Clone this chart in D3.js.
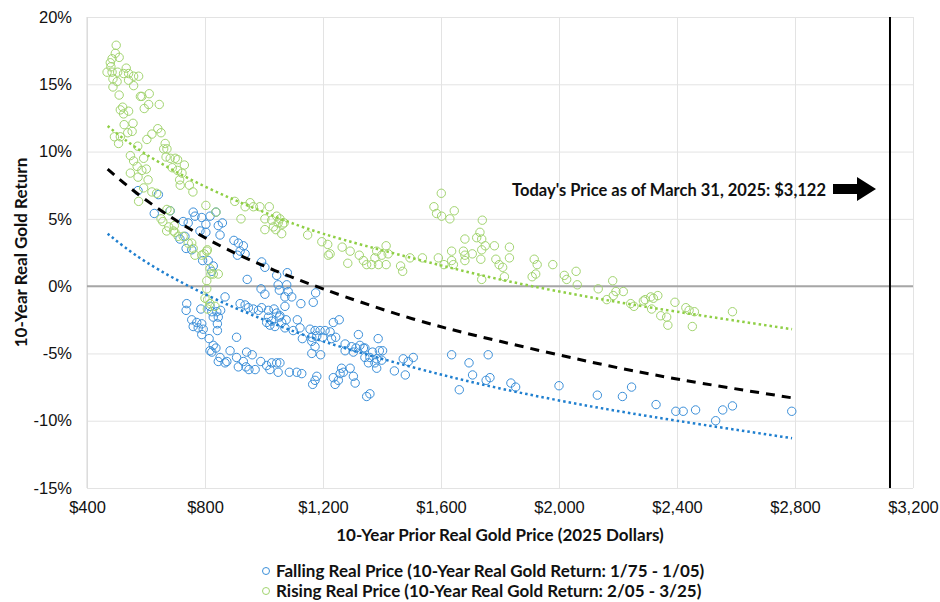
<!DOCTYPE html>
<html lang="en">
<head>
<meta charset="utf-8">
<style>
  body { margin: 0; background: white; }
  svg { font-family: Lato, 'Open Sans', sans-serif; background: white; }
  .grid line { stroke: #e3e3e3; }
  .grid path { display: none; }
  .ticks text { font-size: 16.5px; fill: #111; }
  .ticks path, .ticks line { display: none; }
  .title { font-size: 17px; font-weight: bold; fill: #111; }
  .note { font-size: 16.5px; font-weight: bold; fill: #111; }
  .legend text { font-size: 17px; font-weight: bold; fill: #111; }
  .dot { fill: none; stroke-width: 1; }
</style>
</head>
<body>
<svg width="940" height="602"></svg>
<script src="https://d3js.org/d3.v7.min.js"></script>
<script>
// [real price, 10y real return %]
const fallingPoints = [
  [573, 7.1], [642, 6.8], [628, 5.4], [682, 5.6], [760, 5.5], [766, 5.2], [789, 5.1], [817, 5.2], [837, 5.5],
  [726, 4.8], [743, 4.7], [803, 4.6], [845, 4.5], [859, 4.7], [783, 4.1], [803, 4.0], [851, 3.8], [715, 3.5],
  [732, 3.7], [736, 2.8], [755, 2.7], [792, 1.9], [811, 1.9], [828, 1.5], [823, 1.1], [898, 3.4], [913, 3.2],
  [930, 3.0], [919, 2.6], [936, 2.4], [910, 2.3], [992, 1.8], [1003, 1.4], [1043, 0.8], [1079, 1.0], [943, 0.5],
  [990, -0.2], [1003, -0.6], [1052, -0.3], [1071, -0.8], [1082, -0.4], [868, -0.8], [738, -1.3], [736, -1.8],
  [786, -1.7], [817, -1.5], [823, -1.9], [919, -1.3], [936, -1.4], [947, -1.6], [964, -1.7], [981, -1.8],
  [992, -1.6], [1015, -1.8], [1034, -1.7], [1043, -2.0], [1054, -2.2], [1071, -1.5], [840, -1.9], [845, -2.3],
  [828, -2.3], [853, -1.8], [755, -2.5], [772, -2.7], [789, -2.8], [760, -3.0], [777, -3.1], [794, -3.2],
  [1015, -2.3], [1026, -2.6], [1052, -2.3], [1075, -2.5], [1009, -2.7], [842, -2.8], [842, -3.3], [789, -3.6],
  [814, -3.9], [828, -4.4], [837, -4.6], [817, -4.8], [823, -4.9], [907, -3.8], [885, -4.8], [851, -5.3],
  [868, -5.7], [845, -5.6], [874, -5.6], [941, -4.9], [960, -5.1], [907, -5.3], [930, -5.6], [913, -6.0],
  [939, -6.0], [949, -6.2], [970, -6.2], [989, -5.6], [1009, -5.9], [1026, -5.7], [1043, -5.7], [1054, -5.7],
  [1048, -6.4], [1020, -6.2], [1086, -6.4],
  [1048, 0.1], [1077, 0.1], [1094, -0.8], [1175, -0.5], [1167, -1.2], [1125, -1.3], [1113, -2.5], [1235, -2.7],
  [1255, -2.5], [1060, -2.7], [1020, -2.9], [1037, -3.0], [1071, -3.1], [1099, -3.3], [1122, -3.1], [1156, -3.2],
  [1173, -3.3], [1190, -3.3], [1207, -3.3], [1224, -3.4], [1130, -3.9], [1162, -3.8], [1179, -3.7], [1199, -3.8],
  [1229, -3.9], [1243, -3.8], [1320, -3.6], [1387, -3.9], [1162, -4.1], [1173, -4.5], [1275, -4.3], [1297, -4.5],
  [1325, -4.4], [1337, -4.6], [1312, -4.6], [1342, -4.6], [1162, -5.0], [1192, -5.1], [1275, -4.8], [1303, -4.9],
  [1368, -4.9], [1391, -4.8], [1402, -4.8], [1342, -5.3], [1359, -5.3], [1382, -5.4], [1399, -5.5], [1354, -5.7],
  [1376, -5.7], [1472, -5.4], [1489, -5.6], [1506, -5.3], [1263, -6.1], [1292, -6.1], [1269, -6.4], [1258, -6.5],
  [1111, -6.4], [1128, -6.5], [1303, -6.7], [1382, -6.1], [1442, -6.3], [1479, -6.6], [1179, -6.7], [1173, -7.0],
  [1165, -7.3], [1235, -6.8], [1252, -7.0], [1241, -7.3], [1309, -7.2], [1348, -8.2], [1359, -8.0],
  [1636, -5.1], [1695, -5.7], [1707, -6.6], [1662, -7.7], [1760, -5.1], [1753, -7.0], [1766, -6.8], [1837, -7.2],
  [1853, -7.5], [2000, -7.4], [2130, -8.1], [2215, -8.2], [2246, -7.5], [2329, -8.8], [2396, -9.3], [2421, -9.3],
  [2463, -9.2], [2531, -10.0], [2555, -9.2], [2588, -8.9], [2789, -9.3]
];

const risingPoints = [
  [499, 17.9], [496, 17.3], [485, 16.9], [509, 17.0], [479, 16.6], [481, 16.3], [468, 15.9], [485, 15.9],
  [504, 15.9], [533, 16.2], [524, 15.8], [541, 15.8], [558, 15.6], [575, 15.6], [488, 15.4], [502, 15.2],
  [541, 15.3], [558, 14.9], [488, 14.8], [509, 14.2], [581, 14.1], [586, 14.1], [611, 14.3], [645, 13.5],
  [609, 13.5], [521, 13.3], [513, 13.1], [541, 13.0], [594, 13.2], [524, 12.8], [526, 12.0], [556, 12.1],
  [640, 11.7], [620, 11.3], [651, 11.4], [603, 10.9], [538, 11.4], [553, 11.5], [493, 11.1], [513, 11.1],
  [507, 10.6], [572, 10.4], [665, 10.6], [671, 10.2], [660, 10.2], [547, 9.7], [592, 9.5], [558, 9.3],
  [668, 9.6], [682, 9.5], [699, 9.5], [707, 9.4], [570, 8.9], [601, 8.7], [586, 8.6], [689, 8.8], [730, 9.0],
  [547, 8.4], [573, 8.1], [607, 7.9], [707, 8.6], [722, 8.4], [714, 7.9], [716, 7.5], [747, 7.5], [759, 7.0],
  [592, 7.3], [620, 7.0], [575, 6.3], [901, 6.3], [803, 6.0], [837, 5.5], [671, 5.7], [651, 5.0], [677, 4.4],
  [696, 4.5], [636, 6.9], [681, 5.6], [657, 4.8], [670, 4.1], [693, 4.1], [698, 4.0], [709, 3.7], [726, 3.7],
  [743, 3.2], [755, 3.2], [760, 2.8], [766, 2.3], [789, 2.3], [797, 2.4], [806, 2.6], [808, 2.7], [817, 1.3],
  [828, 0.9], [845, 0.9], [820, 0.9], [806, 0.4], [806, -0.2], [800, -0.9], [809, -1.0], [817, -1.3],
  [834, -1.5], [808, -1.7], [953, 6.2], [964, 5.9], [986, 5.9], [1018, 5.9], [936, 5.9], [922, 5.0],
  [1003, 5.0], [1026, 4.9], [1043, 5.2], [1048, 4.7], [1068, 4.7], [1032, 4.4], [1003, 4.2], [1040, 4.2],
  [1060, 3.9], [1224, 2.4], [1218, 2.3], [1292, 2.6], [1323, 2.3], [1337, 1.9], [1348, 1.6], [1365, 1.6],
  [1388, 1.6], [1414, 1.6], [1376, 2.1], [1399, 2.3], [1421, 2.4], [1382, 2.6], [1284, 1.7], [1463, 1.5],
  [1470, 1.1], [1495, 2.1], [1537, 2.1], [1591, 2.1], [1610, 1.6], [1636, 1.9], [1642, 1.6], [1681, 1.9],
  [1681, 2.3], [1706, 2.4], [1636, 2.6], [1676, 2.6], [1054, 5.0], [1063, 4.6], [1148, 3.8], [1196, 3.3],
  [1216, 3.1], [1265, 2.9], [1414, 3.0], [1576, 5.9], [1585, 5.4], [1602, 5.2], [1601, 6.9], [1630, 5.0],
  [1645, 5.6], [1681, 3.5], [1721, 3.6], [1732, 4.0], [1738, 3.5], [1738, 2.7], [1750, 3.0], [1740, 4.9],
  [1735, 2.0], [1781, 3.0], [1786, 2.0], [1797, 1.6], [1809, 1.4], [1832, 2.9], [1832, 2.1], [1815, 0.7],
  [1738, 0.5], [1916, 2.0], [1926, 1.6], [1909, 0.7], [1921, 0.9], [1979, 1.6], [2018, 0.8], [2026, 0.5],
  [2058, 1.1], [2062, 0.1], [2133, -0.2], [2162, -1.0], [2182, 0.4], [2193, -0.4], [2218, -0.4], [2184, -0.7],
  [2243, -1.3], [2254, -1.5], [2286, -1.1], [2292, -1.0], [2311, -0.8], [2320, -0.9], [2335, -0.7],
  [2314, -1.7], [2345, -2.2], [2365, -2.3], [2369, -2.9], [2393, -1.2], [2430, -1.6], [2441, -1.8],
  [2459, -1.9], [2452, -3.0], [2588, -1.9]
];

// trend lines
const trendPrices = [470, 600, 800, 1000, 1200, 1500, 1800, 2100, 2400, 2790];
const risingTrend = [11.9, 9.8, 7.4, 5.5, 3.9, 2.1, 0.5, -0.8, -1.9, -3.2];
const fallingTrend = [3.9, 1.8, -0.6, -2.5, -4.1, -6.0, -7.6, -8.9, -10.0, -11.3];
const allTrend = [8.7, 6.4, 3.6, 1.5, -0.2, -2.4, -4.1, -5.6, -6.9, -8.3];

const xTicks = [400, 800, 1200, 1600, 2000, 2400, 2800, 3200];
const yTicks = [-15, -10, -5, 0, 5, 10, 15, 20];
const todayPrice = 3122;
const legendLabels = [
  "Falling Real Price (10-Year Real Gold Return: 1/75 - 1/05)",
  "Rising Real Price (10-Year Real Gold Return: 2/05 - 3/25)"
];

const blue = "#3b8fd9", green = "#a2d46f";
const blueLine = "#1f7fcf", greenLine = "#8fcf45";

const svg = d3.select("svg");
const x = d3.scaleLinear().domain([400, 3200]).range([87, 913]);
const y = d3.scaleLinear().domain([-15, 20]).range([488, 17]);

// gridlines
svg.append("g").attr("class", "grid")
  .attr("transform", "translate(0,488)")
  .call(d3.axisBottom(x).tickValues(xTicks).tickSize(-471).tickFormat(""));
svg.append("g").attr("class", "grid")
  .attr("transform", "translate(87,0)")
  .call(d3.axisLeft(y).tickValues(yTicks).tickSize(-826).tickFormat(""));
svg.append("line")
  .attr("x1", x(400)).attr("x2", x(400)).attr("y1", y(20)).attr("y2", y(-15))
  .attr("stroke", "#d6d6d6");
svg.append("line")
  .attr("x1", x(400)).attr("x2", x(3200)).attr("y1", y(0)).attr("y2", y(0))
  .attr("stroke", "#a6a6a6").attr("stroke-width", 2);

// tick labels
svg.append("g").attr("class", "ticks")
  .attr("transform", "translate(0,488)")
  .call(d3.axisBottom(x).tickValues(xTicks).tickSize(0).tickPadding(13)
    .tickFormat(d => "$" + d3.format(",")(d)));
svg.append("g").attr("class", "ticks")
  .attr("transform", "translate(87,0)")
  .call(d3.axisLeft(y).tickValues(yTicks).tickSize(0).tickPadding(15)
    .tickFormat(d => d + "%"));

svg.append("text").attr("class", "title")
  .attr("x", (x(400) + x(3200)) / 2).attr("y", 541).attr("text-anchor", "middle")
  .text("10-Year Prior Real Gold Price (2025 Dollars)");
svg.append("text").attr("class", "title")
  .attr("transform", `translate(27,${(y(20) + y(-15)) / 2}) rotate(-90)`)
  .attr("text-anchor", "middle")
  .text("10-Year Real Gold Return");

// scatter
svg.append("g").selectAll("circle").data(fallingPoints).join("circle")
  .attr("class", "dot").attr("cx", d => x(d[0])).attr("cy", d => y(d[1])).attr("r", 4.2)
  .attr("stroke", blue);
svg.append("g").selectAll("circle").data(risingPoints).join("circle")
  .attr("class", "dot").attr("cx", d => x(d[0])).attr("cy", d => y(d[1])).attr("r", 4.2)
  .attr("stroke", green);

// trend lines
const trendLine = vals => d3.line()
  .x((d, i) => x(trendPrices[i])).y(d => y(d))
  .curve(d3.curveNatural)(vals);
svg.append("path").attr("d", trendLine(risingTrend))
  .attr("fill", "none").attr("stroke", greenLine).attr("stroke-width", 2.5).attr("stroke-dasharray", "2.5 3");
svg.append("path").attr("d", trendLine(fallingTrend))
  .attr("fill", "none").attr("stroke", blueLine).attr("stroke-width", 2.5).attr("stroke-dasharray", "2.5 3");
svg.append("path").attr("d", trendLine(allTrend))
  .attr("fill", "none").attr("stroke", "#000").attr("stroke-width", 3).attr("stroke-dasharray", "9 7");

// today's price
svg.append("line")
  .attr("x1", x(todayPrice)).attr("x2", x(todayPrice)).attr("y1", y(20)).attr("y2", y(-15))
  .attr("stroke", "#000").attr("stroke-width", 2);
svg.append("text").attr("class", "note")
  .attr("x", 826).attr("y", 196).attr("text-anchor", "end")
  .text("Today's Price as of March 31, 2025: $" + d3.format(",")(todayPrice));
svg.append("path")
  .attr("d", "M833,184 L857,184 L857,177 L876,189 L857,201 L857,194 L833,194 Z")
  .attr("fill", "#000");

// legend
const legend = svg.append("g").attr("class", "legend");
legendLabels.forEach((label, i) => {
  const ly = 571 + i * 20;
  legend.append("circle").attr("cx", 266).attr("cy", ly).attr("r", 3.5)
    .attr("fill", "none").attr("stroke", i === 0 ? blue : green);
  legend.append("text").attr("x", 276).attr("y", ly + 6).text(label);
});
</script>
</body>
</html>
